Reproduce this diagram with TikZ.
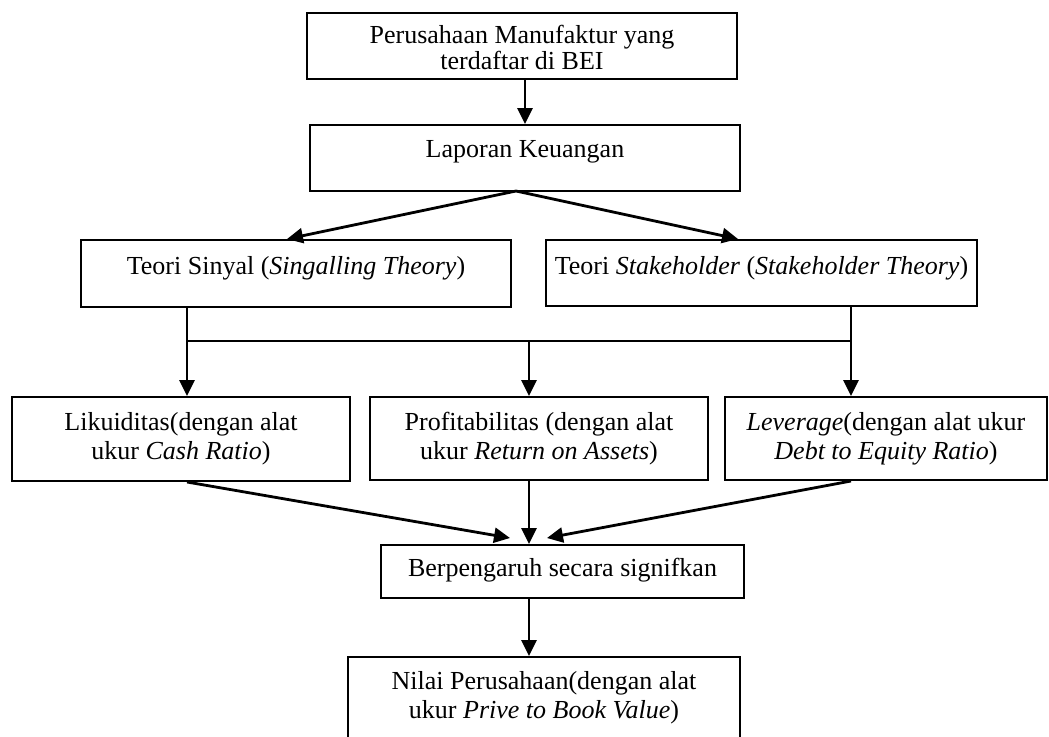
\documentclass[tikz,border=0pt]{standalone}
\usepackage{fontspec}
\setmainfont{Liberation Serif}
\usetikzlibrary{calc,arrows.meta}

\tikzset{
	kotak/.style={draw, line width=1pt, inner sep=0pt},
	isi/.style={anchor=north, align=center, inner sep=0pt, font=\fontsize{13}{14.5}\selectfont},
	panah/.style={line width=1.4pt, -{Triangle[length=8pt,width=7.5pt]}},
	garis/.style={line width=1.1pt}
}

\begin{document}
\begin{tikzpicture}[x=0.5pt, y=-0.5pt]
			\path[use as bounding box, clip] (0,0) rectangle (1049,736);
			
			% kotak
			\foreach \n/\x/\y/\w/\h in {atas/522/46/215/33, lap/525/158/215/33,
				sinyal/296/273.5/215/33.5, stake/761.5/273/215.5/33,
				likuid/181/439/169/42, profit/539/438.5/169/41.5, lev/886/438.5/161/41.5,
				pengaruh/562.5/571.5/181.5/26.5, nilai/544/708/196/51} {
				\node[kotak, minimum width=\w pt, minimum height=\h pt] (\n) at (\x,\y) {};
			}
			
			% teks
			\node[isi, font=\fontsize{13}{11}\selectfont] (tAtas) at ($(atas.north)+(0,13)$) {Perusahaan Manufaktur yang\\terdaftar di BEI};
			\node[isi] (tLap) at ($(lap.north)+(0,16.5)$) {Laporan Keuangan};
			\node[isi] (tSinyal) at ($(sinyal.north)+(0,17.5)$) {Teori Sinyal (\textit{Singalling Theory})};
			\node[isi] (tStake) at ($(stake.north)+(0,17.5)$) {Teori \textit{Stakeholder} (\textit{Stakeholder Theory})};
			\node[isi] (tLikuid) at ($(likuid.north)+(0,16)$) {Likuiditas(dengan alat\\ukur \textit{Cash Ratio})};
			\node[isi] (tProfit) at ($(profit.north)+(0,16)$) {Profitabilitas (dengan alat\\ukur \textit{Return on Assets})};
			\node[isi] (tLev) at ($(lev.north)+(0,16)$) {\textit{Leverage}(dengan alat ukur\\\textit{Debt to Equity Ratio})};
			\node[isi] (tPengaruh) at ($(pengaruh.north)+(0,13.5)$) {Berpengaruh secara signifkan};
			\node[isi] (tNilai) at ($(nilai.north)+(0,15)$) {Nilai Perusahaan(dengan alat\\ukur \textit{Prive to Book Value})};
			
			\coordinate (c1) at (187,341);
			\coordinate (c2) at (529,341);
			\coordinate (c3) at (851,341);
			\coordinate (pecah) at (516,191);
			\coordinate (kiriAtas) at (287,239);
			\coordinate (kananAtas) at (738,239);
			\coordinate (kiriBawah) at (510,538);
			\coordinate (kananBawah) at (547,538);
			
			\draw[panah] (atas.south -| lap.north) -- (lap.north);
			\draw[panah] (pecah) -- (kiriAtas);
			\draw[panah] (pecah) -- (kananAtas);
			
			\draw[garis] (c1) -- (c3);
			\draw[panah] (sinyal.south -| c1) -- (likuid.north -| c1);
			\draw[panah] (c2) -- (profit.north -| c2);
			\draw[panah] (stake.south -| c3) -- (lev.north -| c3);
			
			\draw[panah] (likuid.south -| c1) -- (kiriBawah);
			\draw[panah] (profit.south -| c2) -- (pengaruh.north -| c2);
			\draw[panah] (lev.south -| c3) -- (kananBawah);
			\draw[panah] (pengaruh.south -| c2) -- (nilai.north -| c2);
		\end{tikzpicture}
\end{document}
